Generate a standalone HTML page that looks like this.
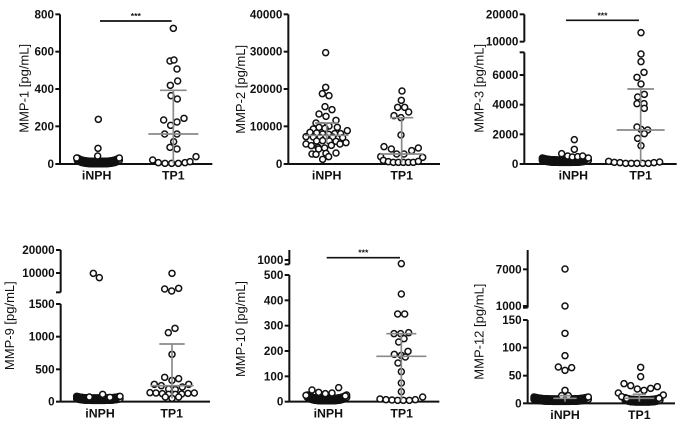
<!DOCTYPE html>
<html><head><meta charset="utf-8"><style>
html,body{margin:0;padding:0;background:#fff;}
svg{display:block;}
text{font-family:"Liberation Sans",Arial,sans-serif;fill:#111;}
</style></head><body>
<svg id="s" width="685" height="428" viewBox="0 0 685 428" xmlns="http://www.w3.org/2000/svg"></svg>
<script>
const NS="http://www.w3.org/2000/svg";
const S=document.getElementById('s');
function el(p,t,a,txt){const e=document.createElementNS(NS,t);for(const k in a)e.setAttribute(k,a[k]);if(txt!==undefined)e.textContent=txt;p.appendChild(e);return e;}
function line(g,x1,y1,x2,y2,c,w){el(g,'line',{x1,y1,x2,y2,stroke:c||'#111','stroke-width':w||6});}
function circ(g,x,y){el(g,'circle',{cx:x,cy:y,r:9,fill:'#fff',stroke:'#111','stroke-width':4.5});}
function cluster(g,x1,x2,yc,ye,n){for(let k=0;k<2;k++)for(let i=0;i<n;i++){const t=i/(n-1);const x=x1+(x2-x1)*t;const u=(t-0.5)*2;const y=yc+(ye-yc)*u*u*u*u+(k?-4:3);circ(g,x,y);}}
function panel(o){
 const g=el(S,'g',{transform:`translate(${o.ox},${o.oy}) scale(${1/3})`});
 const ax=o.ax;
 o.segs.forEach(s=>line(g,ax,s[0],ax,s[1]));
 o.ticks.forEach(t=>{line(g,ax-14,t[0],ax,t[0]);el(g,'text',{x:ax-18,y:t[0]+12,'text-anchor':'end','font-size':35,'font-weight':'bold'},t[1]);});
 (o.caps||[]).forEach(y=>line(g,ax-14,y,ax,y));
 line(g,ax,o.x0,o.xe,o.x0);
 el(g,'text',{x:o.c1,y:o.x0+47,'text-anchor':'middle','font-size':37,'font-weight':'bold'},'iNPH');
 el(g,'text',{x:o.c2,y:o.x0+47,'text-anchor':'middle','font-size':37,'font-weight':'bold'},'TP1');
 el(g,'text',{transform:`translate(${o.tx},${o.ty}) rotate(-90)`,'text-anchor':'middle','font-size':39},o.title);
 if(o.sig){line(g,o.sig[0],o.sig[2],o.sig[1],o.sig[2],'#111',5);el(g,'text',{x:(o.sig[0]+o.sig[1])/2,y:o.sig[2]-6,'text-anchor':'middle','font-size':26,'font-weight':'bold'},'***');}
 const gc='#8a8a8a';
 (o.clusters||[]).forEach(c=>cluster(g,...c));
 o.pts.forEach(p=>circ(g,p[0],p[1]));
 o.stats.forEach(s=>{line(g,s.x,s.top,s.x,s.bot,gc,5);line(g,s.x-s.mw,s.med,s.x+s.mw,s.med,gc,5);line(g,s.x-s.tw,s.top,s.x+s.tw,s.top,gc,5);});
}
panel({ox:0,oy:0,ax:180,x0:492,xe:637,c1:290,c2:520,tx:85,ty:265,title:'MMP-1 [pg/mL]',
 segs:[[43,492]],ticks:[[43,'800'],[155,'600'],[267,'400'],[379,'200'],[492,'0']],sig:[300,515,63],
 stats:[{x:520,top:271,bot:490,med:402,mw:75,tw:40}],
 clusters:[[232,358,488,478,60]],
 pts:[[520,85],[510,183],[522,180],[531,207],[533,243],[511,256],[513,287],[532,297],[491,360],[531,366],[552,355],[512,376],[494,402],[531,402],[521,425],[510,442],[531,447],[458,480],[475,488],[495,490],[515,490],[535,490],[555,488],[570,485],[588,470],[295,358],[294,445],[293,468],[230,474]]});
panel({ox:230,oy:0,ax:175,x0:492,xe:630,c1:290,c2:515,tx:45,ty:268,title:'MMP-2 [pg/mL]',
 segs:[[43,492]],ticks:[[43,'40000'],[155,'30000'],[267,'20000'],[379,'10000'],[492,'0']],
 stats:[{x:290,top:369,bot:430,med:406,mw:65,tw:35},{x:515,top:353,bot:488,med:462,mw:65,tw:35}],
 pts:[[287,158],[287,262],[277,281],[297,287],[285,320],[306,329],[267,342],[288,349],[318,361],[258,369],[277,377],[297,378],[267,382],[285,385],[250,387],[322,382],[240,397],[352,392],[260,399],[278,402],[296,403],[314,401],[332,401],[250,411],[270,412],[288,412],[308,411],[228,410],[338,413],[260,423],[278,422],[298,423],[318,424],[228,432],[244,437],[264,442],[284,444],[304,436],[330,432],[348,428],[266,447],[246,462],[288,460],[318,459],[258,463],[278,478],[296,470],
 [516,273],[514,301],[503,322],[524,322],[536,336],[492,347],[513,353],[513,405],[462,440],[484,447],[545,452],[565,444],[500,462],[522,462],[452,470],[578,472],[460,481],[475,485],[490,487],[505,487],[520,487],[535,487],[550,487],[565,484]]});
panel({ox:455,oy:0,ax:208,x0:492,xe:665,c1:355,c2:557,tx:85,ty:265,title:'MMP-3 [pg/mL]',
 segs:[[43,125],[157,492]],ticks:[[43,'20000'],[125,'10000'],[225,'6000'],[314,'4000'],[403,'2000'],[492,'0']],caps:[157],sig:[333,552,61],
 stats:[{x:557,top:267,bot:490,med:390,mw:72,tw:40}],
 clusters:[[262,400,484,478,60]],
 pts:[[558,98],[558,162],[558,185],[546,232],[567,217],[558,252],[548,291],[568,283],[546,311],[567,311],[568,325],[558,388],[546,381],[578,390],[568,401],[548,415],[558,437],[461,484],[478,487],[495,488],[512,490],[529,490],[546,490],[563,490],[580,490],[597,488],[614,486],[358,419],[358,448],[320,461],[338,468],[352,471],[368,470],[383,468]]});
panel({ox:0,oy:235,ax:182,x0:500,xe:630,c1:300,c2:515,tx:42,ty:272,title:'MMP-9 [pg/mL]',
 segs:[[45,172],[207,500]],ticks:[[45,'20000'],[114,'10000'],[207,'1500'],[305,'1000'],[403,'500'],[500,'0']],caps:[172],
 stats:[{x:516,top:327,bot:490,med:452,mw:65,tw:38}],
 clusters:[[230,360,493,488,60]],
 pts:[[280,115],[298,128],[308,478],[268,486],[330,487],
 [516,115],[494,162],[515,168],[536,160],[505,293],[525,280],[516,358],[494,427],[536,431],[516,436],[463,448],[484,452],[506,462],[526,464],[547,456],[566,448],[450,473],[468,474],[487,476],[506,478],[526,478],[545,477],[564,475],[583,474],[516,490],[496,486],[536,486]]});
panel({ox:230,oy:235,ax:178,x0:500,xe:628,c1:295,c2:515,tx:45,ty:282,title:'MMP-10 [pg/mL]',
 segs:[[45,88],[120,500]],ticks:[[75,'1000'],[120,'500'],[196,'400'],[272,'300'],[348,'200'],[424,'100'],[500,'0']],caps:[88],sig:[290,510,68],
 stats:[{x:514,top:296,bot:496,med:364,mw:75,tw:45}],
 clusters:[[232,350,494,484,56]],
 pts:[[514,86],[514,177],[503,237],[524,237],[492,296],[512,296],[536,293],[522,311],[506,321],[534,349],[493,358],[514,361],[526,366],[504,384],[514,410],[514,444],[514,470],[450,492],[468,494],[486,495],[503,496],[520,496],[538,496],[556,494],[578,486],
 [228,481],[246,465],[266,472],[286,476],[306,474],[326,458],[346,483]]});
panel({ox:455,oy:235,ax:218,x0:505,xe:660,c1:330,c2:553,tx:85,ty:290,title:'MMP-12 [pg/mL]',
 segs:[[45,218],[255,505]],ticks:[[103,'7000'],[213,'1000'],[255,'150'],[338,'100'],[422,'50'],[505,'0']],caps:[218],
 stats:[{x:330,top:482,bot:500,med:490,mw:35,tw:15},{x:553,top:478,bot:500,med:490,mw:45,tw:20}],
 clusters:[[237,400,496,490,64],[510,615,498,492,44]],
 pts:[[330,102],[330,213],[330,295],[330,362],[310,396],[330,406],[350,398],[330,466],[320,482],[340,482],
 [557,397],[557,425],[507,446],[527,452],[547,462],[567,466],[587,460],[607,455],[490,474],[500,485],[515,490],[625,480],[612,490]]});
</script>
</body></html>
